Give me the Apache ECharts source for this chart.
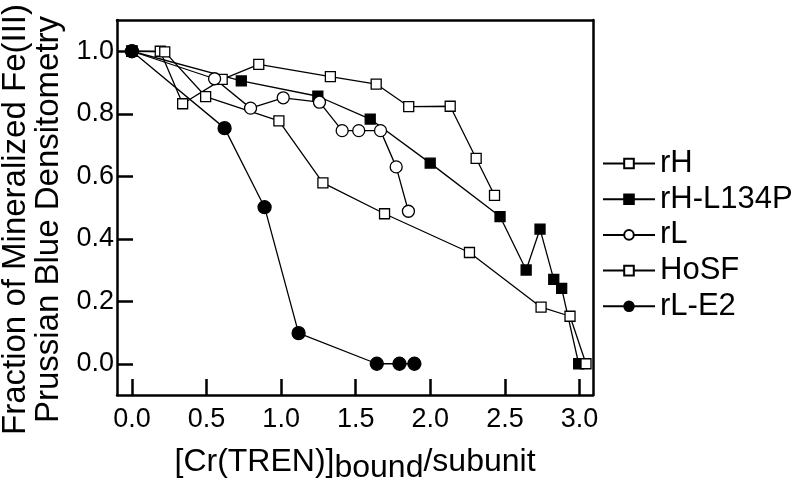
<!DOCTYPE html>
<html>
<head>
<meta charset="utf-8">
<script src="https://cdn.jsdelivr.net/npm/echarts@6/dist/echarts.min.js"></script>
<style>
  html, body { margin: 0; padding: 0; background: #fff; }
  #chart { width: 800px; height: 489px; }
</style>
</head>
<body>
<div id="chart"></div>
<script>
// values
const rhX = [0, 0.19, 0.34, 0.605, 0.85, 1.33, 1.637, 1.855, 2.133, 2.307, 2.43];
const rhY = [1.0, 1.0, 0.832, 0.91, 0.958, 0.919, 0.895, 0.823, 0.824, 0.657, 0.539];

const rhL134pX = [0, 0.733, 1.246, 1.597, 1.999, 2.467, 2.642, 2.735, 2.827, 2.88, 2.994];
const rhL134pY = [1.0, 0.905, 0.856, 0.783, 0.642, 0.471, 0.3, 0.431, 0.27, 0.241, 0.0];

const rlX = [0, 0.554, 0.795, 1.014, 1.257, 1.409, 1.52, 1.666, 1.771, 1.853];
const rlY = [1.0, 0.912, 0.818, 0.851, 0.837, 0.746, 0.746, 0.746, 0.63, 0.488];

const hosfX = [0, 0.22, 0.494, 0.985, 1.28, 1.693, 2.262, 2.742, 2.936, 3.043];
const hosfY = [1.0, 0.998, 0.855, 0.777, 0.579, 0.48, 0.356, 0.181, 0.152, 0.0];

const rlE2X = [0, 0.621, 0.889, 1.117, 1.641, 1.793, 1.893];
const rlE2Y = [1.0, 0.754, 0.501, 0.098, 0.0, 0.0, 0.0];

const X_MIN = -0.1, X_MAX = 3.09;
const Y_MIN = -0.1, Y_MAX = 1.1;

const FONT = 'Liberation Sans';
// axis index 1 on each side is only a frame with a range away from zero,
// so pointing onZero at it keeps the main axis lines on the plot edges
const AXIS_LINE = { show: true, onZero: true, onZeroAxisIndex: 1, lineStyle: { color: '#000', width: 2.5 } };
const TICK = { show: true, inside: true, length: 16, lineStyle: { color: '#000', width: 2.5 } };

function pairs(xs, ys) {
    return xs.map((x, i) => [x, ys[i]]);
}

function makeSeries(name, xs, ys, symbol, size, filled) {
    return {
        name: name,
        type: 'line',
        data: pairs(xs, ys),
        symbol: symbol,
        symbolSize: size,
        showAllSymbol: true,
        lineStyle: { color: '#000', width: 1.3 },
        itemStyle: {
            color: filled ? '#000' : '#fff',
            borderColor: '#000',
            borderWidth: 1.3
        },
        emphasis: { disabled: true },
        animation: false
    };
}

// top / right axes only draw the frame, no ticks or labels
function frameAxis(pos) {
    return {
        type: 'value', position: pos, min: 1, max: 2,
        axisLine: AXIS_LINE,
        axisTick: { show: false },
        axisLabel: { show: false },
        splitLine: { show: false }
    };
}

const chart = echarts.init(document.getElementById('chart'));
chart.setOption({
    backgroundColor: '#fff',
    animation: false,
    grid: {
        left: 117, right: 207, top: 20, bottom: 94,
        outerBoundsMode: 'none',
        containLabel: false
    },
    legend: {
        orient: 'vertical',
        left: 602,
        top: 148,
        padding: 0,
        itemWidth: 52,
        itemHeight: 12,
        itemGap: 4.7,
        textStyle: { fontFamily: FONT, fontSize: 31, lineHeight: 31, color: '#000' },
        data: ['rH', 'rH-L134P', 'rL', 'HoSF', 'rL-E2']
    },
    xAxis: [{
        type: 'value',
        position: 'bottom',
        min: X_MIN,
        max: X_MAX,
        splitNumber: 5, // gives 0.5 steps counted from 0
        name: '{m|[Cr(TREN)]}{s|bound}{m|/subunit}',
        nameLocation: 'middle',
        nameGap: 51,
        nameTextStyle: {
            rich: {
                m: { fontFamily: FONT, fontSize: 32, lineHeight: 32, verticalAlign: 'top', color: '#000' },
                s: { fontFamily: FONT, fontSize: 32, lineHeight: 44, verticalAlign: 'middle', color: '#000' }
            }
        },
        axisLine: AXIS_LINE,
        axisTick: TICK,
        axisLabel: {
            show: true,
            showMinLabel: false,
            showMaxLabel: false,
            margin: 11,
            fontFamily: FONT, fontSize: 27, color: '#000',
            formatter: v => v.toFixed(1)
        },
        splitLine: { show: false }
    }, frameAxis('top')],
    yAxis: [{
        type: 'value',
        position: 'left',
        min: Y_MIN,
        max: Y_MAX,
        splitNumber: 5, // gives 0.2 steps counted from 0
        name: 'Fraction of Mineralized Fe(III)\nPrussian Blue Densitometry',
        nameLocation: 'middle',
        nameRotate: 90,
        nameGap: 49,
        nameTextStyle: { fontFamily: FONT, fontSize: 33, lineHeight: 33, color: '#000', padding: [0, 24, 0, 0] },
        axisLine: AXIS_LINE,
        axisTick: TICK,
        axisLabel: {
            show: true,
            showMinLabel: false,
            showMaxLabel: false,
            margin: 3,
            fontFamily: FONT, fontSize: 27, color: '#000',
            formatter: v => v.toFixed(1)
        },
        splitLine: { show: false }
    }, frameAxis('right')],
    series: [
        makeSeries('rH', rhX, rhY, 'rect', 10, false),
        makeSeries('rH-L134P', rhL134pX, rhL134pY, 'rect', 10, true),
        makeSeries('rL', rlX, rlY, 'circle', 12, false),
        makeSeries('HoSF', hosfX, hosfY, 'rect', 10, false),
        makeSeries('rL-E2', rlE2X, rlE2Y, 'circle', 13, true)
    ]
});
</script>
</body>
</html>
